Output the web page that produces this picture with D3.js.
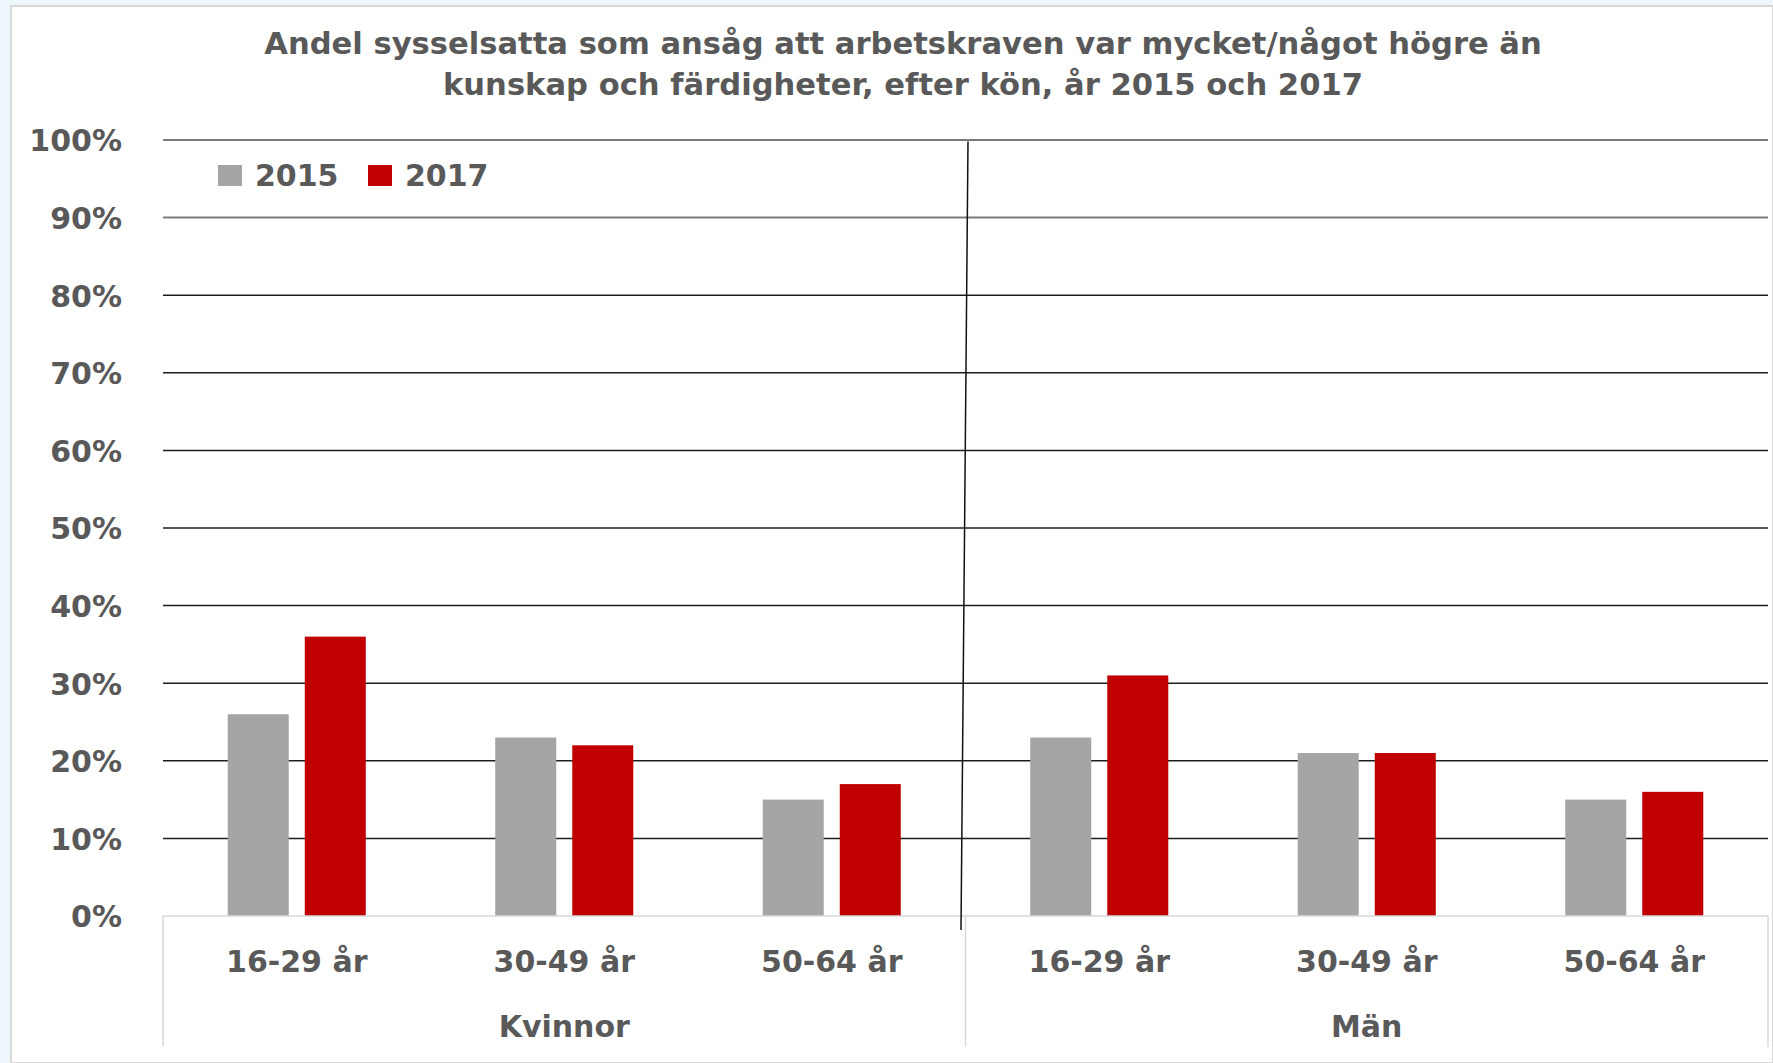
<!DOCTYPE html>
<html>
<head>
<meta charset="utf-8">
<script src="https://cdn.jsdelivr.net/npm/d3@7"></script>
<style>
  body { margin: 0; background: #eef8fc; }
  text { font-family: "DejaVu Sans", sans-serif; font-weight: bold; fill: #595959; }
</style>
</head>
<body>
<div id="chart"></div>
<script>
const titleLines = [
  "Andel sysselsatta som ansåg att arbetskraven var mycket/något högre än",
  "kunskap och färdigheter, efter kön, år 2015 och 2017"
]
const genders = ["Kvinnor", "Män"]
const ages = ["16-29 år", "30-49 år", "50-64 år"]
const years = ["2015", "2017"]
const values2015 = [26, 23, 15, 23, 21, 15]
const values2017 = [36, 22, 17, 31, 21, 16]
const yTicks = [0, 10, 20, 30, 40, 50, 60, 70, 80, 90, 100]

const colors = { "2015": "#a5a5a5", "2017": "#c00000" }

const width = 1773, height = 1063
const margin = { top: 140, right: 5, bottom: 147, left: 163 }

// one row per bar group: gender + age
const rows = genders.flatMap((g, gi) => ages.map((a, ai) => {
  const i = gi * ages.length + ai
  return { key: g + " " + a, gender: g, age: a, "2015": values2015[i], "2017": values2017[i] }
}))

const svg = d3.select("#chart").append("svg")
    .attr("width", width)
    .attr("height", height)

// page frame
svg.append("rect")
    .attr("x", 11).attr("y", 6)
    .attr("width", width - 11).attr("height", height - 6)
    .attr("fill", "#fff")
    .attr("stroke", "#d9d9d9")
    .attr("stroke-width", 2)

const x0 = d3.scaleBand()
    .domain(rows.map(d => d.key))
    .range([margin.left, width - margin.right])
    .padding(0)

const x1 = d3.scaleBand()
    .domain(years)
    .range([0, x0.bandwidth()])
    .paddingInner(0.208)
    .paddingOuter(0.84)

const y = d3.scaleLinear()
    .domain([0, 100])
    .range([height - margin.bottom, margin.top])

// title
svg.append("g")
  .selectAll("text")
  .data(titleLines)
  .join("text")
    .attr("x", 903)
    .attr("y", (d, i) => 54 + i * 41)
    .attr("text-anchor", "middle")
    .attr("font-size", 30.6)
    .text(d => d)

// gridlines
svg.append("g")
  .selectAll("line")
  .data(yTicks.filter(d => d > 0))
  .join("line")
    .attr("x1", margin.left)
    .attr("x2", width - margin.right)
    .attr("y1", d => y(d))
    .attr("y2", d => y(d))
    .attr("stroke", d => d >= 90 ? "#7a7a7a" : "#1e1e1e")
    .attr("stroke-width", d => d >= 90 ? 2 : 1.5)

// y labels
const yAxis = svg.append("g")
    .attr("transform", `translate(${122},0)`)
    .call(d3.axisLeft(y).tickValues(yTicks).tickSize(0).tickPadding(0).tickFormat(d => d + "%"))
yAxis.select(".domain").remove()
yAxis.selectAll("text")
    .attr("font-size", 30)
    .attr("font-family", null)
    .attr("dy", "0.36em")

// bars
svg.append("g")
  .selectAll("g")
  .data(rows)
  .join("g")
    .attr("transform", d => `translate(${x0(d.key)},0)`)
  .selectAll("rect")
  .data(d => years.map(yr => ({ year: yr, value: d[yr] })))
  .join("rect")
    .attr("x", d => x1(d.year))
    .attr("width", x1.bandwidth())
    .attr("y", d => y(d.value))
    .attr("height", d => y(0) - y(d.value))
    .attr("fill", d => colors[d.year])

// category axis box
const axisTop = y(0), axisBottom = height - 16
const gx = svg.append("g")
gx.append("line")
    .attr("x1", margin.left).attr("x2", width - margin.right)
    .attr("y1", axisTop).attr("y2", axisTop)
    .attr("stroke", "#d9d9d9").attr("stroke-width", 1.5)
const boundaries = [x0.range()[0], x0(rows[ages.length].key), x0.range()[1]]
gx.selectAll(".sep")
  .data(boundaries)
  .join("line")
    .attr("class", "sep")
    .attr("x1", d => d).attr("x2", d => d)
    .attr("y1", axisTop).attr("y2", axisBottom)
    .attr("stroke", "#d9d9d9").attr("stroke-width", 1.5)

gx.selectAll(".age")
  .data(rows)
  .join("text")
    .attr("class", "age")
    .attr("x", d => x0(d.key) + x0.bandwidth() / 2)
    .attr("y", 972)
    .attr("text-anchor", "middle")
    .attr("font-size", 30)
    .text(d => d.age)

gx.selectAll(".gender")
  .data(genders)
  .join("text")
    .attr("class", "gender")
    .attr("x", (d, i) => (boundaries[i] + boundaries[i + 1]) / 2)
    .attr("y", 1037)
    .attr("text-anchor", "middle")
    .attr("font-size", 30)
    .text(d => d)

// hand drawn divider between the two genders (slightly slanted)
const mid = boundaries[1]
svg.append("line")
    .attr("x1", mid + 2.5).attr("y1", y(100) + 1.5)
    .attr("x2", mid - 4.5).attr("y2", 930)
    .attr("stroke", "#111")
    .attr("stroke-width", 1.5)

// legend
const legend = svg.append("g")
  .selectAll("g")
  .data(years)
  .join("g")
    .attr("transform", (d, i) => `translate(${218 + i * 150},165)`)
legend.append("rect")
    .attr("width", 24).attr("height", 21)
    .attr("fill", d => colors[d])
legend.append("text")
    .attr("x", 37).attr("y", 21)
    .attr("font-size", 30)
    .text(d => d)
</script>
</body>
</html>
